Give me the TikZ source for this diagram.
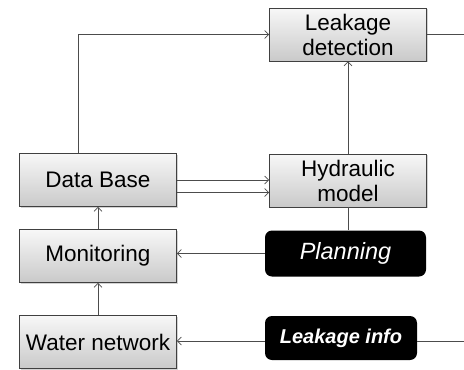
\documentclass[tikz,border=0pt]{standalone}
\usepackage{fontspec}
\setmainfont{Liberation Sans}
\usetikzlibrary{arrows.meta,shadows,calc}

\begin{document}
\begin{tikzpicture}[x=1pt,y=-1pt]
  \tikzset{
    box/.style={draw=black!75,line width=0.7pt,top color=gray!6,bottom color=gray!42,
      minimum width=157pt,minimum height=53pt,inner sep=0pt,align=center,
      font=\fontsize{22.5}{25}\selectfont,
      drop shadow={shadow xshift=1.2pt,shadow yshift=-1.2pt,opacity=0.35}},
    blackbox/.style={fill=black,rounded corners=7pt,text=white,inner sep=0pt,
      minimum width=161pt,minimum height=46pt},
    link/.style={draw=black!70,line width=0.7pt},
    arr/.style={link,-{Straight Barb[length=4pt,width=8pt]}}
  }
  \useasboundingbox (0,0) rectangle (464,370);

  % boxes
  \node[box] (detect) at (348,34.5) {Leakage\\detection};
  \node[box] (db) at (98,180) {Data Base};
  \node[box] (hydro) at (348,180.5) {Hydraulic\\model};
  \node[box] (mon) at (98,256) {Monitoring};
  \node[box] (wn) at (98,342) {Water network};
  \node[blackbox,font=\fontsize{23.5}{26}\itshape] (plan) at (345.5,253.5) {Planning};
  \node[blackbox,minimum width=152pt,minimum height=44pt,
        font=\fontsize{20}{22}\bfseries\itshape] (info) at (341,338) {Leakage info};

  % free ends at the right margin
  \coordinate (outA) at (464,34);
  \coordinate (outB) at (464,341);

  % connectors
  \draw[arr] ([xshift=-20pt]db.north) |- (detect.west);
  \draw[link] (detect.east) -- (detect.east -| outA);
  \draw[arr] (hydro.north) -- (detect.south);
  \draw[arr] (db.east) -- (db.east -| hydro.west);
  \draw[arr] ([yshift=-12.5pt]db.east) -- ([yshift=-12.5pt]db.east -| hydro.west);
  \draw[link] (hydro.south) -- (hydro.south |- plan.north);
  \draw[arr] (plan.west) -- (plan.west -| mon.east);
  \draw[arr] (mon.north) -- (db.south);
  \draw[arr] (wn.north) -- (mon.south);
  \draw[arr] (outB -| info.west) -- (outB -| wn.east);
  \draw[link] (outB -| info.east) -- (outB);
\end{tikzpicture}
\end{document}
